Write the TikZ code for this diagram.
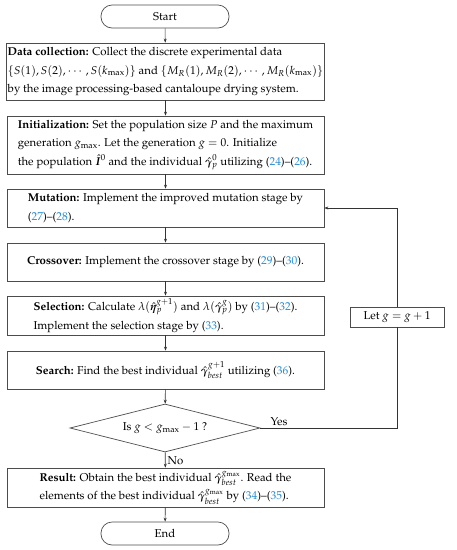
\documentclass[tikz,border=0pt]{standalone}
\usepackage[T1]{fontenc}
\usepackage{mathpazo}
\usepackage{amsmath}
\usepackage{bm}
\usetikzlibrary{shapes.geometric,arrows.meta}

\definecolor{citeblue}{RGB}{40,140,210}
\newcommand{\refno}[1]{(\textcolor{citeblue}{#1})}

\begin{document}
\begin{tikzpicture}[x=1pt, y=-1pt,
  font=\fontsize{11.4}{18.5}\selectfont,
  stagebox/.style={draw=black!70, line width=0.7pt, minimum width=317pt, align=left, inner sep=1pt},
  terminal/.style={draw=black!70, line width=0.7pt, rounded corners=11pt, minimum width=128pt, minimum height=23pt},
  decision/.style={draw=black!70, line width=0.7pt, diamond, aspect=3.96, minimum width=190pt, minimum height=48pt, inner sep=0pt},
  flow/.style={draw=black!80, line width=0.6pt, -{Stealth[length=4pt, width=3pt]}}]
\useasboundingbox (0,0) rectangle (457,550);

\node[terminal] (start) at (165, 16.5) {Start};
\node[stagebox, minimum height=57pt] (data) at (165.5, 71.5) {\textbf{Data collection:} Collect the discrete experimental data\\
  $\{S(1), S(2), \cdots, S(k_{\max})\}$ and $\{M_R(1), M_R(2), \cdots, M_R(k_{\max})\}$\\
  by the image processing-based cantaloupe drying system.};
\node[stagebox, minimum height=58pt] (init) at (165.5, 145) {\textbf{Initialization:} Set the population size $P$ and the maximum\\
  generation $g_{\max}$. Let the generation $g=0$. Initialize\\
  the population $\hat{\bm{I}}^0$ and the individual $\hat{\bm{\gamma}}_p^0$ utilizing \refno{24}--\refno{26}.};
\node[stagebox, minimum height=38pt] (mut) at (165.5, 208) {\textbf{Mutation:} Implement the improved mutation stage by\\
  \refno{27}--\refno{28}.};
\node[stagebox, minimum height=38pt] (cross) at (165.5, 262) {\textbf{Crossover:} Implement the crossover stage by \refno{29}--\refno{30}.};
\node[stagebox, minimum height=39pt] (sel) at (165.5, 315.5) {\textbf{Selection:} Calculate $\lambda(\hat{\bm{\eta}}_p^{g+1})$ and $\lambda(\hat{\bm{\gamma}}_p^{g})$ by \refno{31}--\refno{32}.\\
  Implement the selection stage by \refno{33}.};
\node[stagebox, minimum height=38pt] (search) at (165.5, 370) {\textbf{Search:} Find the best individual $\hat{\bm{\gamma}}_{best}^{g+1}$ utilizing \refno{36}.};
\node[decision] (check) at (165, 428) {Is $g<g_{\max}-1$ ?};
\node[stagebox, minimum height=39pt] (result) at (165.5, 487.5) {\textbf{Result:} Obtain the best individual $\hat{\bm{\gamma}}_{best}^{g_{\max}}$. Read the\\
  elements of the best individual $\hat{\bm{\gamma}}_{best}^{g_{\max}}$ by \refno{34}--\refno{35}.};
\node[terminal] (end) at (165, 533.5) {End};

\node[draw=black!70, line width=0.7pt, minimum width=94pt, minimum height=20pt] (letg) at (397, 317) {Let $g=g+1$};

\draw[flow] (start) -- (data);
\draw[flow] (data) -- (init);
\draw[flow] (init) -- (mut);
\draw[flow] (mut) -- (cross);
\draw[flow] (cross) -- (sel);
\draw[flow] (sel) -- (search);
\draw[flow] (search) -- (check);
\draw[flow] (check) -- node[right, inner sep=2pt, yshift=-1pt] (no) {No} (result);
\draw[flow] (result) -- (end);

% loop back
\draw[draw=black!80, line width=0.6pt] (check.east) -| (letg.south);
\draw[flow] (letg.north) |- (mut.east);
\node[above right, inner sep=2pt, xshift=8pt] (yes) at (check.east) {Yes};
\end{tikzpicture}
\end{document}
